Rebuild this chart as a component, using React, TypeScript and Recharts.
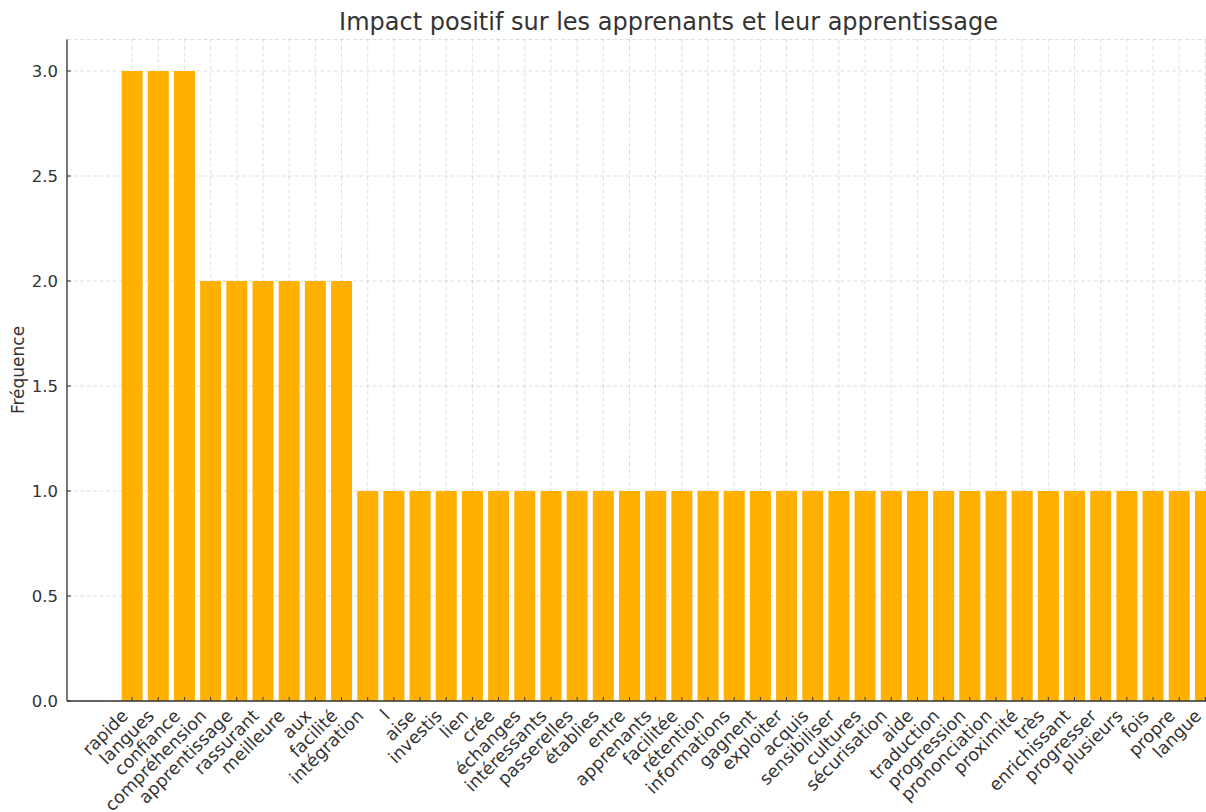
import React from 'react';
import { BarChart, Bar, XAxis, YAxis, CartesianGrid } from 'recharts';

const words = [
  'rapide', 'langues', 'confiance', 'compréhension', 'apprentissage', 'rassurant',
  'meilleure', 'aux', 'facilité', 'intégration', 'l', 'aise', 'investis', 'lien',
  'crée', 'échanges', 'intéressants', 'passerelles', 'établies', 'entre', 'apprenants',
  'facilitée', 'rétention', 'informations', 'gagnent', 'exploiter', 'acquis',
  'sensibiliser', 'cultures', 'sécurisation', 'aide', 'traduction', 'progression',
  'prononciation', 'proximité', 'très', 'enrichissant', 'progresser', 'plusieurs',
  'fois', 'propre', 'langue',
];

const counts = [
  3, 3, 3, 2, 2, 2, 2, 2, 2, 1, 1, 1, 1, 1,
  1, 1, 1, 1, 1, 1, 1, 1, 1, 1, 1, 1, 1, 1,
  1, 1, 1, 1, 1, 1, 1, 1, 1, 1, 1, 1, 1, 1,
];

const yTicks = [0, 0.5, 1, 1.5, 2, 2.5, 3];

const data = words.map((w, i) => ({ mot: w, frequence: counts[i] }));

const FONT = '"DejaVu Sans", sans-serif';
const TEXT = '#333333';

const XTick = ({ x, y, payload }: any) => (
  <g>
    <line x1={x} y1={y} x2={x} y2={y - 4} stroke={TEXT} strokeWidth={1} />
    <text
      x={x - 3}
      y={y + 16}
      transform={`rotate(-45 ${x - 3} ${y + 16})`}
      textAnchor="end"
      fontSize={17.5}
      fontFamily={FONT}
      fill={TEXT}
    >
      {payload.value}
    </text>
  </g>
);

const YTick = ({ x, y, payload }: any) => (
  <g>
    <line x1={x} y1={y} x2={x + 4} y2={y} stroke={TEXT} strokeWidth={1} />
    <text
      x={x - 9}
      y={y}
      dy="0.36em"
      textAnchor="end"
      fontSize={16.5}
      fontFamily={FONT}
      fill={TEXT}
    >
      {payload.value.toFixed(1)}
    </text>
  </g>
);

// axis title centred on the plot height (39.5 .. 701)
const YTitle = () => (
  <text
    x={18}
    y={370}
    transform="rotate(-90 18 370)"
    textAnchor="middle"
    dominantBaseline="central"
    fontSize={17}
    fontFamily={FONT}
    fill={TEXT}
  >
    Fréquence
  </text>
);

export default function App() {
  return (
    <div style={{ position: 'absolute', left: 0, top: 0, width: 1206, height: 812, overflow: 'hidden', background: '#fff' }}>
      <div
        style={{
          position: 'absolute',
          left: 0,
          top: 10,
          width: 1337,
          textAlign: 'center',
          fontFamily: FONT,
          fontSize: 24,
          lineHeight: 1,
          color: TEXT,
        }}
      >
        Impact positif sur les apprenants et leur apprentissage
      </div>
      <BarChart
        width={1290}
        height={812}
        data={data}
        margin={{ top: 39.5, right: 19.5, bottom: 0, left: 0 }}
        barCategoryGap="10%"
      >
        <XAxis
          dataKey="mot"
          interval={0}
          padding={{ left: 52, right: 52 }}
          tickLine={false}
          tickSize={0}
          tickMargin={0}
          tick={<XTick />}
          axisLine={{ stroke: TEXT, strokeWidth: 1.3 }}
          height={111}
        />
        <YAxis
          width={67}
          domain={[0, 3.15]}
          ticks={yTicks}
          interval={0}
          tickLine={false}
          tickSize={0}
          tickMargin={0}
          tick={<YTick />}
          axisLine={{ stroke: TEXT, strokeWidth: 1.3 }}
          label={{ content: <YTitle /> }}
        />
        <Bar dataKey="frequence" fill="#FFB000" isAnimationActive={false} />
        <CartesianGrid stroke="#c8c8c8" strokeDasharray="4 2.5" strokeWidth={0.8} strokeOpacity={0.7} />
      </BarChart>
    </div>
  );
}
